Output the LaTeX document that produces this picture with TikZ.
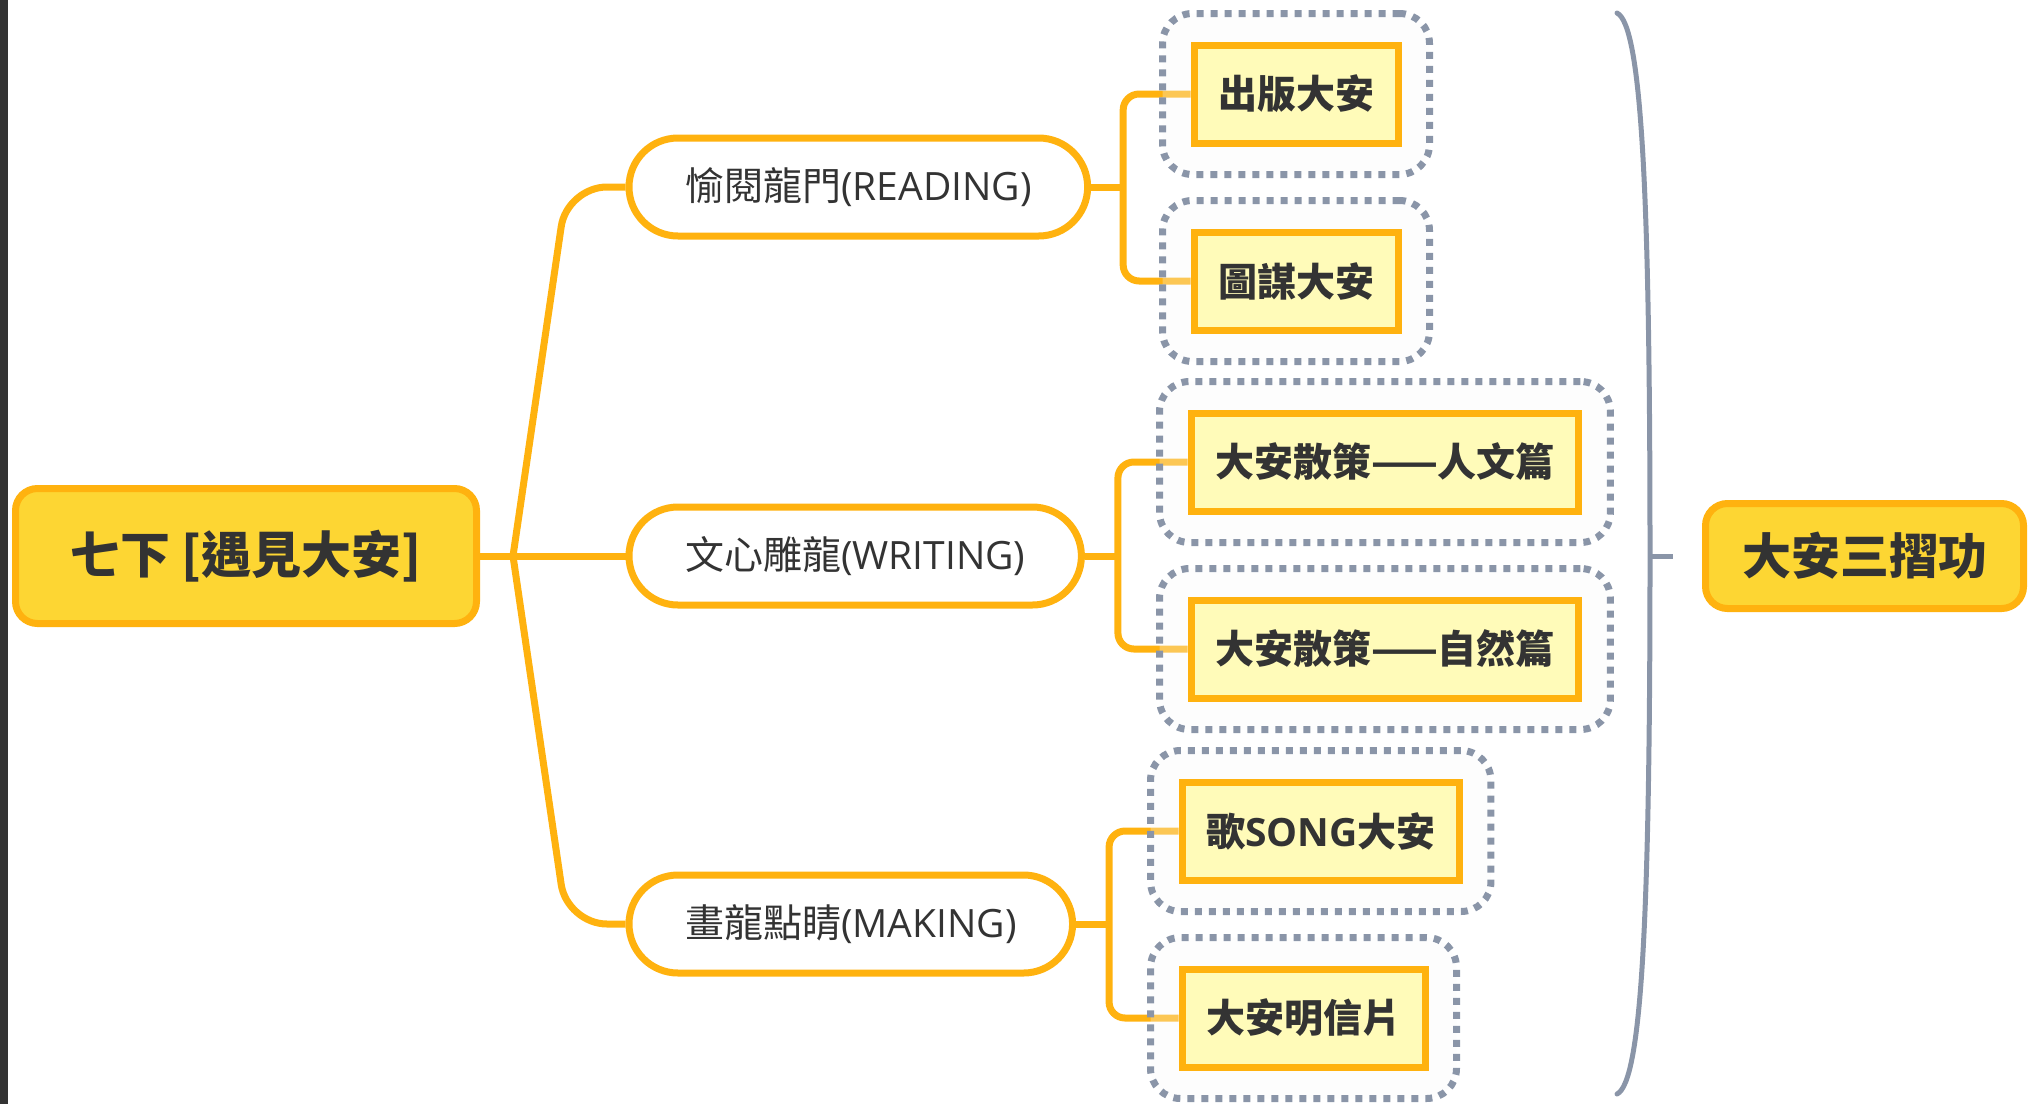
\documentclass[tikz,border=0pt]{standalone}
\usepackage{fontspec}
\setmainfont{Noto Sans CJK TC}
\newfontfamily\enfont{Open Sans}
\newcommand\en[1]{{\enfont #1}}
\usetikzlibrary{fit}
\definecolor{mapline}{HTML}{FFB20F}
\definecolor{rootfill}{HTML}{FDD633}
\definecolor{leaffill}{HTML}{FFFBB9}
\definecolor{ink}{HTML}{333333}
\definecolor{brace}{HTML}{8A95A8}
\definecolor{grpfill}{HTML}{F7F8FA}
\pgfdeclarelayer{lines}
\pgfdeclarelayer{groups}
\pgfsetlayers{lines,groups,main}
\tikzset{
  rootbox/.style={draw=mapline, fill=rootfill, line width=3.5pt, rounded corners=11pt,
    text=ink, font=\fontsize{25}{30}\selectfont\bfseries, inner xsep=0pt},
  topicbox/.style={draw=mapline, fill=white, line width=3.5pt, rounded corners=24.5pt,
    text=ink, font=\fontsize{19.5}{24}\selectfont, inner xsep=28pt, minimum height=49pt, anchor=west},
  leafbox/.style={draw=mapline, fill=leaffill, line width=3.5pt, text=ink,
    font=\fontsize{19.5}{24}\selectfont\bfseries, inner xsep=12pt, minimum height=49pt, anchor=west},
  grpbox/.style={draw=brace, fill=grpfill, fill opacity=0.3, line width=3.5pt,
    dash pattern=on 3.5pt off 3.5pt, rounded corners=15pt, inner sep=14pt},
  branch/.style={draw=mapline, line width=3.5pt},
}
\begin{document}
\begin{tikzpicture}[x=0.5pt,y=-0.5pt]
  \useasboundingbox (0,0) rectangle (2029,1104);
  \fill[ink] (0,0) rectangle (8,1104);

  % main topic and summary
  \node[rootbox, minimum width=230.5pt, minimum height=67.5pt] (root) at (246,556) {七下 [遇見大安]};
  \node[rootbox, minimum width=159pt, minimum height=52.5pt,
    font=\fontsize{24.5}{30}\selectfont\bfseries] (sum) at (1864.5,556) {大安三摺功};

  % three topics
  \node[topicbox] (read) at (625.5,187) {愉閱龍門\en{(READING)}};
  \node[topicbox] (write) at (625.5,556) {文心雕龍\en{(WRITING)}};
  \node[topicbox] (make) at (625.5,924) {畫龍點睛\en{(MAKING)}};

  % subtopics
  \node[leafbox] (pub) at (1190.5,94) {出版大安};
  \node[leafbox] (plan) at (1190.5,281) {圖謀大安};
  \node[leafbox] (human) at (1187.5,462) {大安散策——人文篇};
  \node[leafbox] (nature) at (1187.5,649) {大安散策——自然篇};
  \node[leafbox] (song) at (1178.5,831) {歌\en{SONG}大安};
  \node[leafbox] (card) at (1178.5,1018) {大安明信片};

  \begin{pgfonlayer}{groups}
    \node[grpbox, fit=(pub)] (pubgrp) {};
    \node[grpbox, fit=(plan)] (plangrp) {};
    \node[grpbox, fit=(human)] (humangrp) {};
    \node[grpbox, fit=(nature)] (naturegrp) {};
    \node[grpbox, fit=(song)] (songgrp) {};
    \node[grpbox, fit=(card)] (cardgrp) {};
  \end{pgfonlayer}

  \begin{pgfonlayer}{lines}
    \coordinate (j) at ([xshift=16.5pt]root.east);
    \draw[branch] (root.east) -- (write.west);
    \draw[branch, rounded corners=20pt] (j) -- ++(54,-369) -- (read.west);
    \draw[branch, rounded corners=20pt] (j) -- ++(54,368) -- (make.west);

    \coordinate (rt) at ([xshift=16pt]read.east);
    \coordinate (wt) at ([xshift=16.5pt]write.east);
    \coordinate (mt) at ([xshift=16.5pt]make.east);
    \draw[branch] (read.east) -- (rt);
    \draw[branch] (write.east) -- (wt);
    \draw[branch] (make.east) -- (mt);
    \draw[branch, rounded corners=8pt] (pub.west) -| (rt) |- (plan.west);
    \draw[branch, rounded corners=8pt] (human.west) -| (wt) |- (nature.west);
    \draw[branch, rounded corners=8pt] (song.west) -| (mt) |- (card.west);
  \end{pgfonlayer}

  % summary bracket
  \coordinate (bk) at (1650,556);
  \draw[brace, line width=2.5pt, line cap=round]
    (1617,13) .. controls (1642,25) and (1650,200) .. (bk)
    .. controls (1650,912) and (1642,1082) .. (1617,1094);
  \draw[brace, line width=2.5pt] (bk) -- ++(23,0);
\end{tikzpicture}
\end{document}
